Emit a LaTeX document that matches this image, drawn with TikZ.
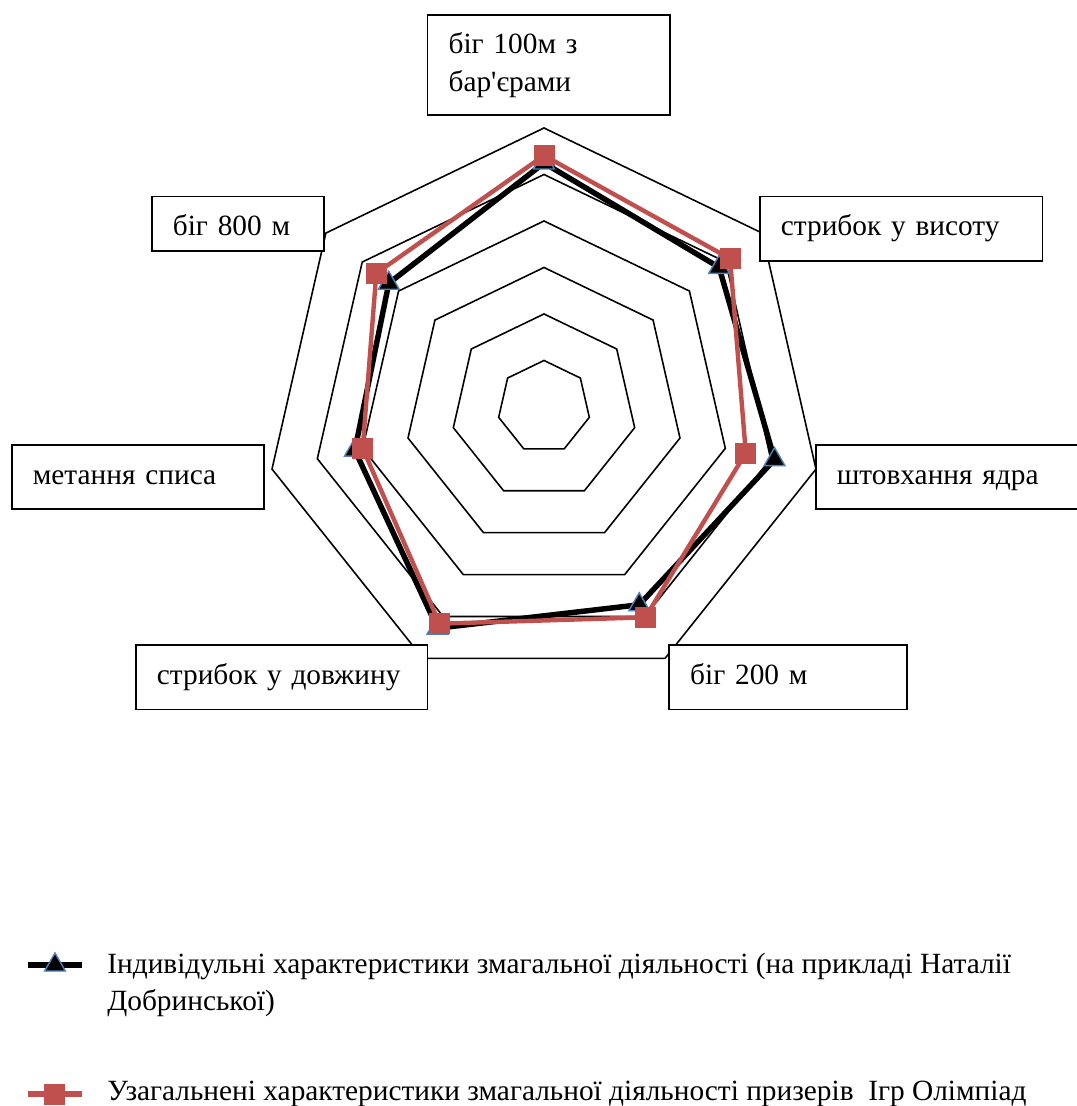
\documentclass[tikz,border=0pt]{standalone}
\usepackage{fontspec}
\newfontfamily\chartfont{Liberation Serif}
\usetikzlibrary{shapes.geometric}
\definecolor{serred}{HTML}{C0504D}
\definecolor{serblue}{HTML}{4F81BD}

\begin{document}
\begin{tikzpicture}[font=\chartfont\fontsize{16.7}{22}\selectfont]
  \tikzset{ring/.style = {draw=black, line width=0.9pt}}
  \tikzset{lbl/.style = {draw, fill=white, line width=1pt, anchor=north west, inner xsep=0.42cm, inner ysep=0pt, align=left, text height=0.43cm, text depth=0.15cm}}
  \tikzset{tri/.style = {regular polygon, regular polygon sides=3, fill=black, draw=serblue, line width=0.8pt, minimum size=0.48cm, inner sep=0pt}}
  \tikzset{sq/.style = {rectangle, fill=serred, minimum size=0.42cm, inner sep=0pt}}
  \tikzset{bline/.style = {black, line width=3.1pt}}
  \tikzset{rline/.style = {serred, line width=2.5pt}}

\useasboundingbox (-10.88,8.14) rectangle (10.64,-13.98);

\foreach \r in {0.93,1.86,2.79,3.72,4.65,5.58}
  \draw[ring] (90:\r) -- (38.571:\r) -- (-12.857:\r) -- (-64.286:\r) -- (-115.714:\r) -- (-167.143:\r) -- (141.429:\r) -- cycle;

\coordinate (b0) at (90:4.88);
\coordinate (b1) at (38.571:4.48);
\coordinate (b2) at (-12.857:4.73);
\coordinate (b3) at (-64.286:4.39);
\coordinate (b4) at (-115.714:4.91);
\coordinate (b5) at (-167.143:3.88);
\coordinate (b6) at (141.429:3.97);

\coordinate (r0) at (90:5.03);
\coordinate (r1) at (38.571:4.76);
\coordinate (r2) at (-12.857:4.14);
\coordinate (r3) at (-64.286:4.67);
\coordinate (r4) at (-115.714:4.81);
\coordinate (r5) at (-167.143:3.72);
\coordinate (r6) at (141.429:4.29);

\draw[bline] (b0) -- (b1) -- (b2) -- (b3) -- (b4) -- (b5) -- (b6) -- cycle;
\foreach \p in {b0,b1,b2,b3,b4,b5,b6}
  \node[tri] at (\p) {};

\draw[rline] (r0) -- (r1) -- (r2) -- (r3) -- (r4) -- (r5) -- (r6) -- cycle;
\foreach \p in {r0,r1,r2,r3,r4,r5,r6}
  \node[sq] at (\p) {};

\node[lbl, text width=4.01cm, minimum height=2.01cm, text height=, text depth=] (hurdles) at (-2.346,7.86) {біг 100м з\\бар'єрами};
\node[lbl, text width=4.81cm, minimum height=1.29cm] (highjump) at (4.30,4.226) {стрибок у висоту};
\node[lbl, text width=4.66cm, minimum height=1.29cm] (shotput) at (5.42,-0.74) {штовхання ядра};
\node[lbl, text width=3.91cm, minimum height=1.29cm] (run200) at (2.486,-4.74) {біг 200 м};
\node[lbl, text width=4.99cm, minimum height=1.29cm] (longjump) at (-8.18,-4.74) {стрибок у довжину};
\node[lbl, text width=4.21cm, minimum height=1.29cm] (javelin) at (-10.66,-0.74) {метання списа};
\node[lbl, text width=2.61cm, minimum height=1.09cm, text height=0.63cm] (run800) at (-7.86,4.226) {біг 800 м};

\coordinate (la) at (-10.32,-11.16);
\coordinate (lb) at (-9.24,-11.16);
\draw[bline] (la) -- (lb);
\node[tri] (ltri) at (-9.78,-11.16) {};

\coordinate (lc) at (-10.32,-13.74);
\coordinate (ld) at (-9.24,-13.74);
\draw[rline, line width=3pt] (lc) -- (ld);
\node[sq] (lsq) at (-9.78,-13.74) {};

\node[anchor=base west, inner sep=0pt] (indiv1) at (-8.74,-11.32) {Індивідульні характеристики змагальної діяльності (на прикладі Наталії};
\node[anchor=base west, inner sep=0pt] (indiv2) at (-8.74,-12.06) {Добринської)};
\node[anchor=base west, inner sep=0pt] (general) at (-8.74,-13.86) {Узагальнені характеристики змагальної діяльності призерів~ Ігр Олімпіад};

\end{tikzpicture}
\end{document}
